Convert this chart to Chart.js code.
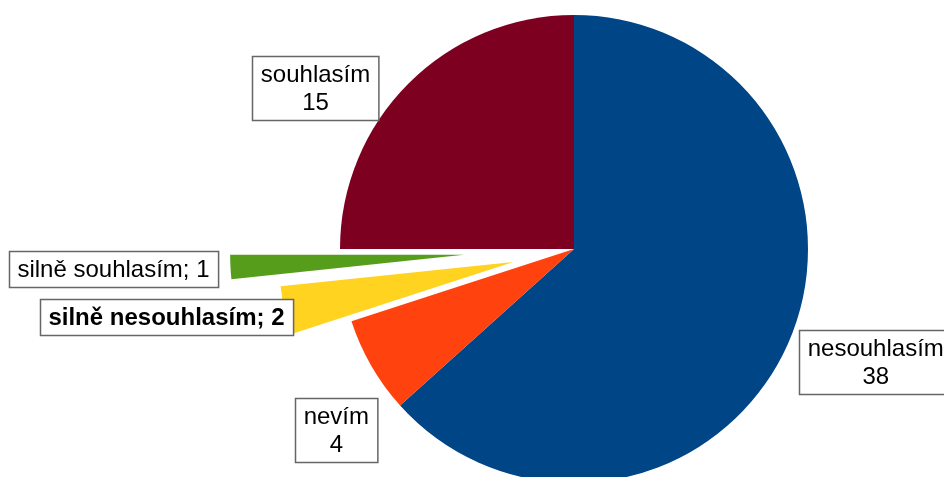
<!DOCTYPE html>
<html>
<head>
<meta charset="utf-8">
<script src="https://cdn.jsdelivr.net/npm/chart.js@4.4.0/dist/chart.umd.min.js"></script>
<style>
  html, body { margin: 0; padding: 0; background: #fff; }
  #wrap { width: 944px; height: 477px; }
</style>
</head>
<body>
<div id="wrap"><canvas id="pieChart"></canvas></div>
<script>
// Survey answers, in series order
const answers = ['nesouhlasím', 'nevím', 'silně nesouhlasím', 'silně souhlasím', 'souhlasím'];
const counts = [38, 4, 2, 1, 15];
const sliceColors = ['#004586', '#ff420e', '#ffd320', '#579d1c', '#7e0021'];

// how far each slice is pulled out of the pie (px)
const explode = [0, 0, 62, 110, 0];
// label box centre, relative to the outer middle point of its slice
const labelShift = [[88, 18], [-35, 64], [-118, 6], [-117, 2], [-93, 4]];
const labelTwoLines = [true, true, false, false, true];
const labelBold = [false, false, true, false, false];

// move exploded slices out along their middle angle
const explodePlugin = {
    id: 'explode',
    afterDatasetsUpdate(chart) {
        chart.getDatasetMeta(0).data.forEach((arc, i) => {
            const d = explode[i];
            if (!d) return;
            const mid = (arc.startAngle + arc.endAngle) / 2;
            arc.x += Math.cos(mid) * d;
            arc.y += Math.sin(mid) * d;
        });
    }
};

// framed data labels
const boxLabels = {
    id: 'boxLabels',
    afterDatasetsDraw(chart) {
        const ctx = chart.ctx;
        chart.getDatasetMeta(0).data.forEach((arc, i) => {
            const mid = (arc.startAngle + arc.endAngle) / 2;
            const cx = arc.x + Math.cos(mid) * arc.outerRadius + labelShift[i][0];
            const cy = arc.y + Math.sin(mid) * arc.outerRadius + labelShift[i][1];
            const lines = labelTwoLines[i]
                ? [answers[i], String(counts[i])]
                : [answers[i] + '; ' + counts[i]];
            ctx.save();
            ctx.font = (labelBold[i] ? 'bold ' : '') + '24px "Liberation Sans", Arial, sans-serif';
            const lineH = 28;
            const w = Math.max(...lines.map(l => ctx.measureText(l).width)) + 17;
            const h = lines.length * lineH + 8;
            const x0 = Math.round(cx - w / 2) + 0.5;
            const y0 = Math.round(cy - h / 2) + 0.5;
            ctx.fillStyle = '#fff';
            ctx.fillRect(x0, y0, w, h);
            ctx.strokeStyle = '#666';
            ctx.lineWidth = 1.5;
            ctx.strokeRect(x0, y0, w, h);
            ctx.fillStyle = '#000';
            ctx.textAlign = 'center';
            ctx.textBaseline = 'middle';
            lines.forEach((l, k) => {
                ctx.fillText(l, cx, y0 + 4 + lineH * (k + 0.5) + 1);
            });
            ctx.restore();
        });
    }
};

const ctx = document.getElementById('pieChart').getContext('2d');
new Chart(ctx, {
    type: 'pie',
    data: {
        labels: answers,
        datasets: [{
            data: counts,
            backgroundColor: sliceColors,
            borderWidth: 0,
            radius: 234,
            clip: false
        }]
    },
    options: {
        responsive: true,
        maintainAspectRatio: false,
        animation: false,
        layout: { padding: { left: 204, top: 21 } },
        plugins: {
            legend: { display: false },
            tooltip: { enabled: false }
        }
    },
    plugins: [explodePlugin, boxLabels]
});
</script>
</body>
</html>
